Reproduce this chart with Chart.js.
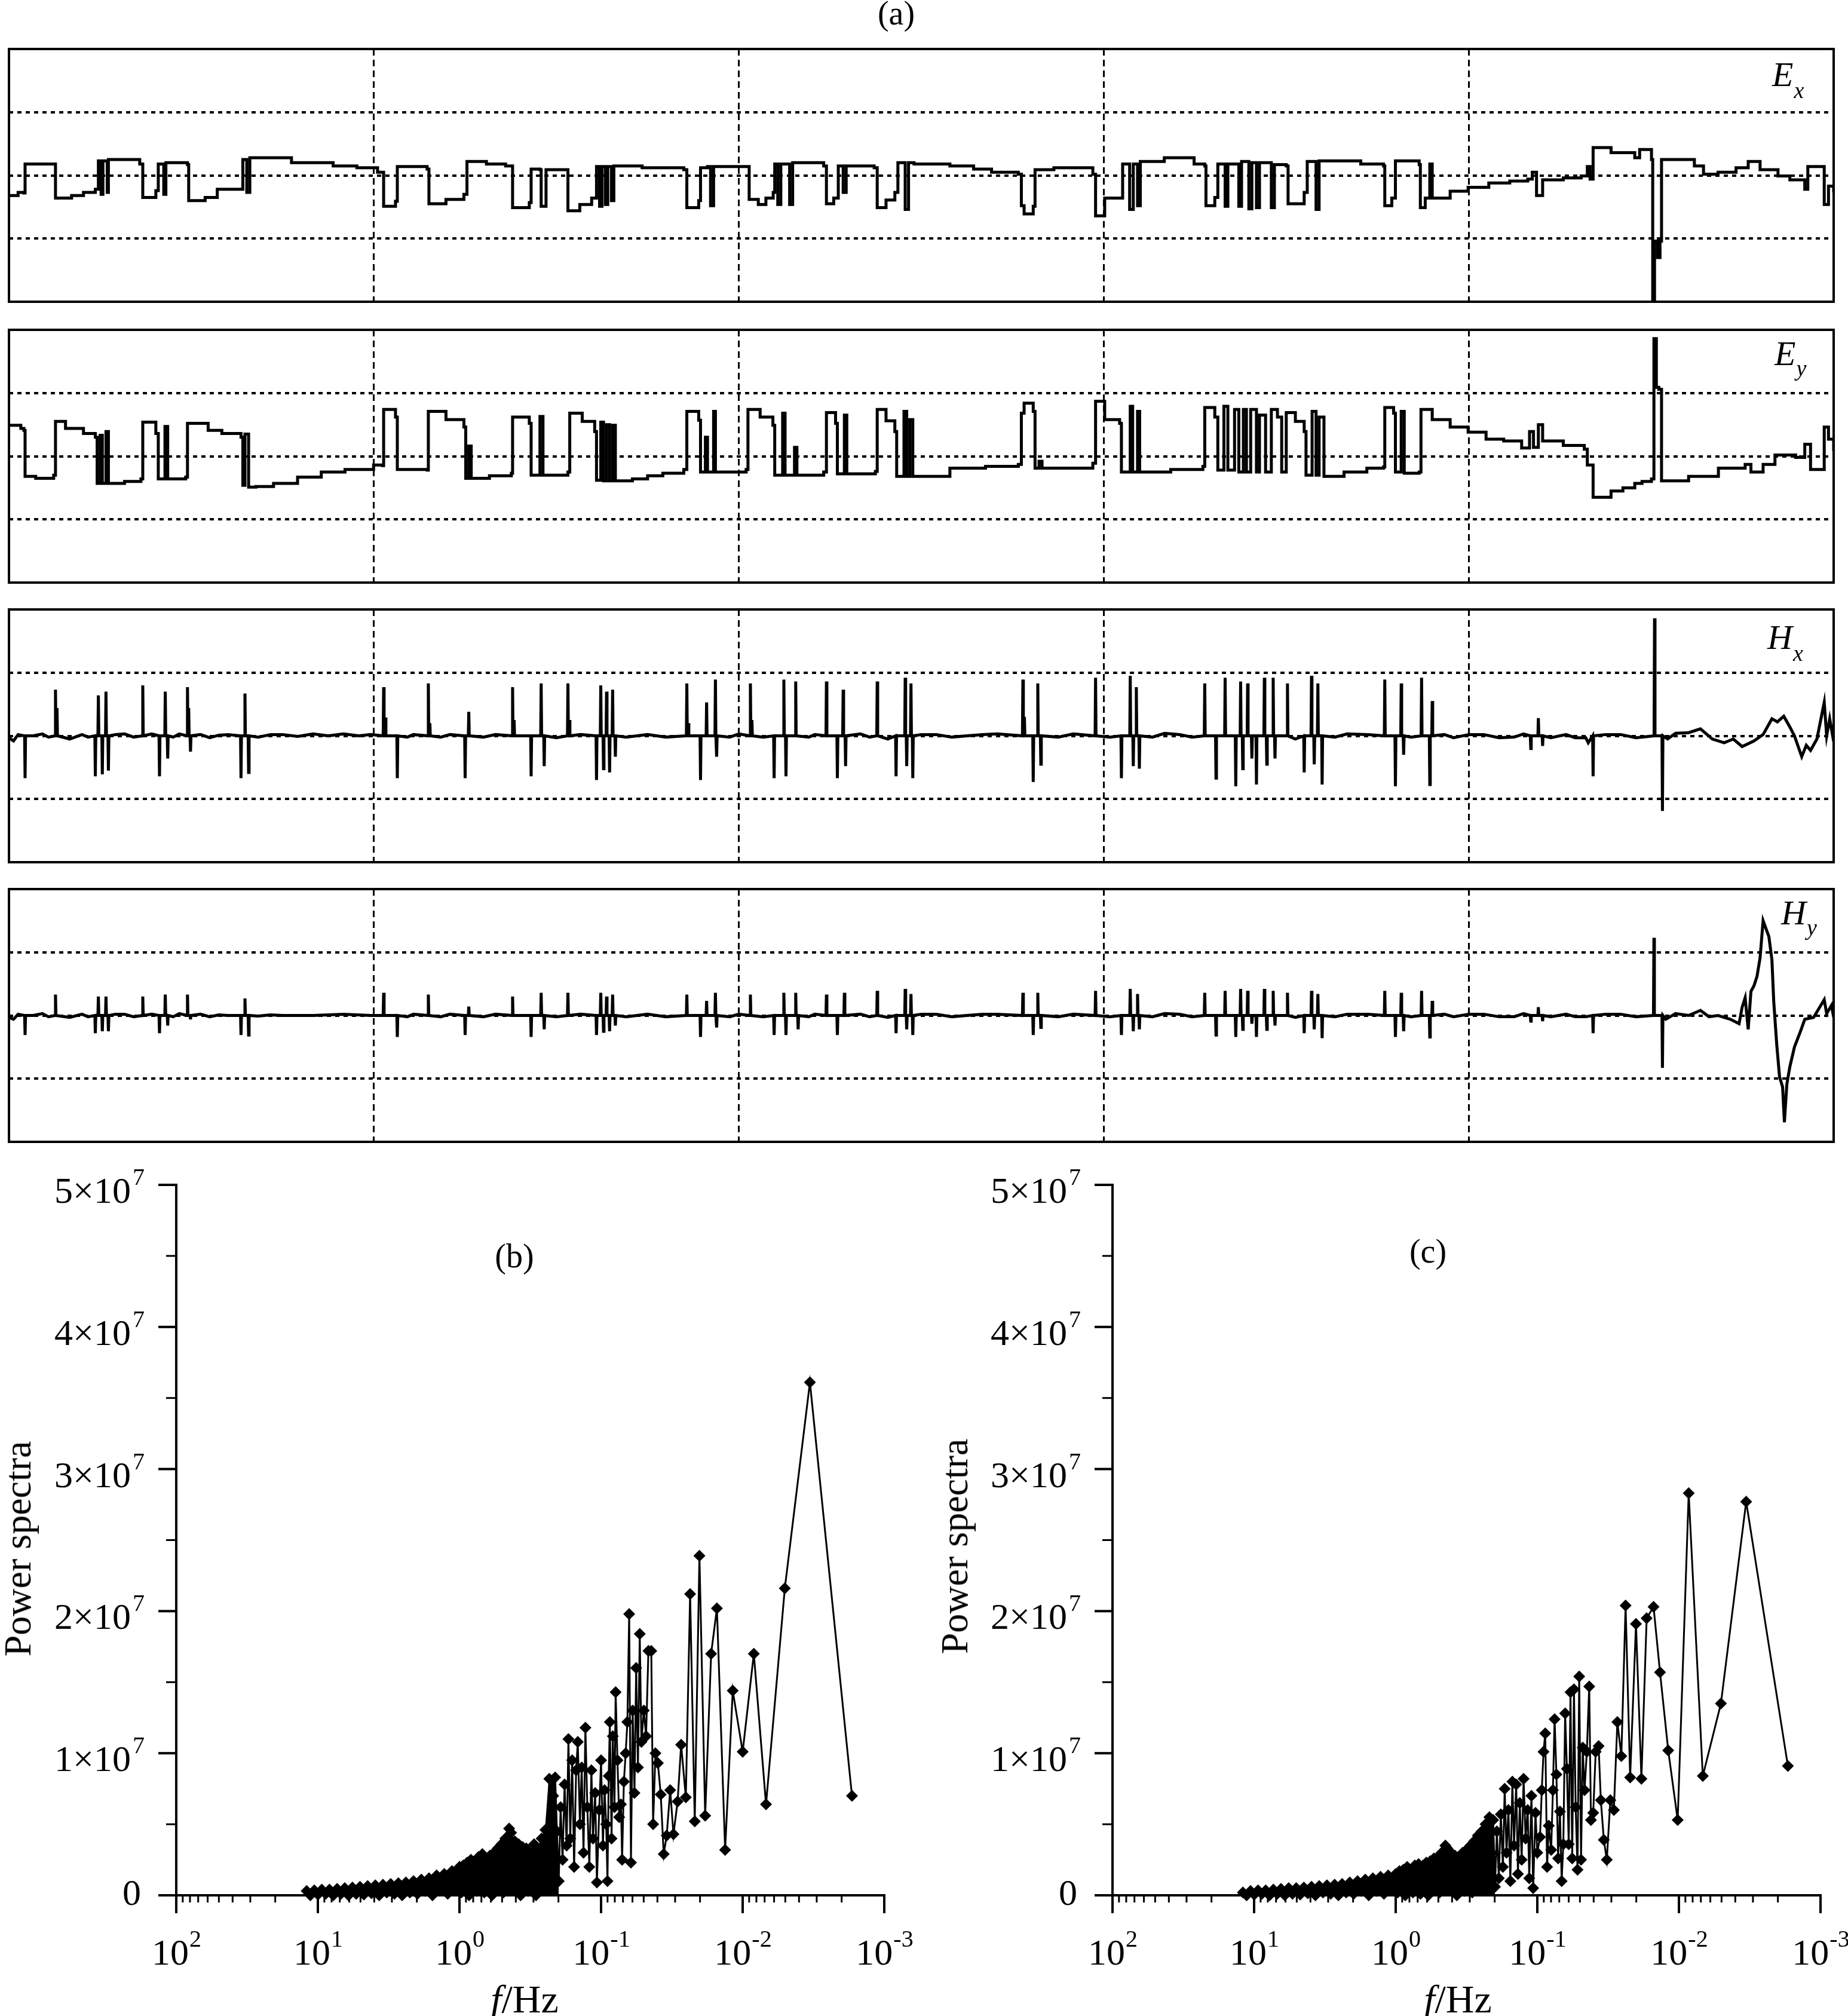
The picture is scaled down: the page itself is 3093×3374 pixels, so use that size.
<!DOCTYPE html>
<html>
<head>
<meta charset="utf-8">
<script src="https://cdn.jsdelivr.net/npm/chart.js@4.4.0/dist/chart.umd.min.js"></script>
<style>
  body { margin: 0; width: 3093px; height: 3374px; position: relative; background: #fff; color: #000;
         font-family: 'Liberation Serif', 'Times New Roman', serif; overflow: hidden; }
  canvas { position: absolute; }
  .t { position: absolute; line-height: 1; white-space: nowrap; }
  .c { transform: translate(-50%, -50%); font-size: 56px; }
  .lab { font-style: italic; font-size: 58px; }
  .lab span { font-size: 38px; position: relative; top: 20px; margin-left: 1px; }
  .rot { transform: translate(-50%, -50%) rotate(-90deg); font-size: 64px; }
  .ax { transform: translate(-50%, -50%); font-size: 66px; }
</style>
</head>
<body>
<div class="t c" style="left:1500px;top:22px">(a)</div>

<canvas id="exChart" width="3093" height="443" style="left:0;top:72px"></canvas>
<canvas id="eyChart" width="3093" height="443" style="left:0;top:542px"></canvas>
<canvas id="hxChart" width="3093" height="443" style="left:0;top:1010px"></canvas>
<canvas id="hyChart" width="3093" height="443" style="left:0;top:1478px"></canvas>

<div class="t lab" style="left:2966px;top:96px">E<span>x</span></div>
<div class="t lab" style="left:2970px;top:563px">E<span style="top:18px">y</span></div>
<div class="t lab" style="left:2958px;top:1038px">H<span>x</span></div>
<div class="t lab" style="left:2981px;top:1499px">H<span style="top:18px">y</span></div>

<canvas id="specB" width="1550" height="1474" style="left:0;top:1900px"></canvas>
<canvas id="specC" width="1533" height="1474" style="left:1560px;top:1900px"></canvas>

<div class="t c" style="left:861px;top:2102px">(b)</div>
<div class="t c" style="left:2390px;top:2094px">(c)</div>
<div class="t rot" style="left:30px;top:2592px">Power spectra</div>
<div class="t rot" style="left:1598px;top:2588px">Power spectra</div>
<div class="t ax" style="left:878px;top:3346px"><i>f</i>/Hz</div>
<div class="t ax" style="left:2440px;top:3346px"><i>f</i>/Hz</div>

<script>
// (a) time series, time in seconds over the 600 s record
const exTime = [0, 3.0, 4.9, 5.3, 15.1, 15.3, 20.6, 24.5, 28.4, 29.4, 30.3,
  30.9, 32.3, 32.7, 43.0, 44.0, 48.3, 49.1, 50.9, 51.6, 58.7,
  59.1, 64.5, 68.5, 76.3, 76.9, 78.2, 79.2, 87.0, 92.9, 106.6,
  114.4, 121.2, 123.2, 127.1, 127.7, 137.5, 138.1, 143.7, 149.6, 150.6, 157.0,
  163.3, 165.6, 171.1, 171.7, 174.6, 175.0, 176.6, 183.2, 183.8, 187.7, 191.6,
  193.2, 194.2, 195.0, 196.1, 196.9, 198.1, 198.9, 208.2, 221.9, 222.9,
  226.8, 227.4, 229.7, 230.7, 231.7, 242.4, 243.4, 246.4, 248.9, 251.3, 251.8,
  252.8, 253.8, 256.7, 257.7, 267.9, 268.8, 271.2, 272.7, 274.3, 275.3,
  284.5, 285.5, 288.4, 291.3, 292.3, 294.7, 295.8, 297.6, 309.4, 317.2, 323.1,
  331.9, 332.9, 333.8, 336.8, 337.4, 343.6, 356.4, 357.3, 360.3, 365.2,
  366.2, 368.5, 369.7, 371.1, 372.0, 379.9, 389.7, 393.2, 393.6, 396.5,
  397.5, 399.9, 400.8, 404.4, 405.3, 407.7, 408.7, 410.2, 411.2, 415.1,
  416.1, 420.0, 420.6, 425.9, 426.9, 429.8, 430.8, 444.5, 452.0, 452.4,
  454.7, 455.9, 463.7, 464.1, 465.7, 467.2, 468.0, 473.9, 479.8, 486.6,
  493.5, 499.4, 500.9, 502.3, 504.3, 511.1, 517.0, 519.0, 519.9, 520.9,
  526.8, 534.6, 536.2, 540.1, 540.5, 541.1, 542.1, 542.9, 543.4, 550.3,
  554.2, 557.2, 562.0, 567.9, 571.9, 575.8, 581.7, 585.6, 590.5, 591.5,
  595.4, 596.9, 598.3, 600];
const exField = [-0.32, -0.27, -0.28, 0.18, 0.18, -0.36, -0.32, -0.27, -0.22, 0.23, -0.30,
  0.23, -0.27, 0.25, 0.18, -0.35, -0.24, 0.18, -0.30, 0.20, 0.17,
  -0.40, -0.35, -0.22, -0.22, 0.25, -0.27, 0.28, 0.28, 0.20, 0.15,
  0.12, 0.05, -0.49, -0.41, 0.14, 0.10, -0.45, -0.38, -0.30, 0.22, 0.18,
  0.15, -0.51, -0.43, 0.10, 0.09, -0.49, 0.09, 0.09, -0.56, -0.46, -0.36,
  0.14, -0.49, 0.14, -0.46, 0.14, -0.40, 0.15, 0.12, 0.09, -0.51,
  -0.40, 0.12, 0.14, -0.48, 0.14, 0.14, -0.38, -0.46, -0.36, -0.27, 0.18,
  -0.46, 0.18, -0.46, 0.20, 0.15, -0.45, -0.36, 0.15, -0.27, 0.15,
  0.12, -0.51, -0.39, -0.27, 0.20, -0.54, 0.20, 0.18, 0.15, 0.10, 0.05,
  0.02, -0.48, -0.61, -0.49, 0.09, 0.12, 0.02, -0.64, -0.36, -0.36,
  0.18, -0.54, 0.18, -0.48, 0.22, 0.28, 0.18, 0.15, -0.48, -0.35,
  0.18, -0.49, 0.18, -0.49, 0.22, -0.53, 0.20, -0.51, 0.20, -0.51,
  0.17, 0.15, -0.45, -0.27, 0.22, -0.54, 0.23, 0.18, 0.15, -0.48,
  -0.36, 0.23, 0.17, -0.51, -0.36, 0.18, -0.36, -0.25, -0.19, -0.12,
  -0.09, -0.06, 0.05, -0.32, -0.07, -0.04, -0.01, 0.14, -0.06, 0.44,
  0.36, 0.28, 0.41, 0.25, -2.1, -1.04, -1.30, -1.04, 0.25, 0.25,
  0.15, 0.02, 0.05, 0.12, 0.22, 0.09, -0.01, -0.07, -0.22, 0.14,
  0.14, -0.46, -0.17, -0.27];

const eyTime = [0, 3.9, 4.9, 5.3, 8.8, 14.7, 15.3, 18.6, 24.5, 28.4,
  29.0, 30.0, 30.7, 31.9, 32.7, 38.0, 43.4, 44.0, 48.3, 49.1, 51.3,
  52.2, 58.1, 58.7, 65.5, 70.0, 76.3, 76.9, 77.6, 78.8, 81.2, 87.0, 94.9, 102.7, 110.5, 119.9,
  122.8, 123.2, 127.1, 127.7, 137.5, 137.9, 143.7, 149.6, 150.2, 151.2, 152.0, 158.0, 165.2,
  165.6, 171.1, 171.7, 174.6, 175.6, 183.8, 184.4, 188.5, 192.6, 193.2, 194.6,
  195.5, 196.5, 197.5, 198.5, 199.4, 205.0, 210.0, 215.0, 221.9, 222.9, 226.8, 227.4, 229.0,
  229.7, 231.7, 232.3, 242.4, 243.0, 247.0, 251.2, 251.8, 254.4, 255.2, 258.3,
  259.1, 267.9, 268.8, 271.8, 272.4, 274.7, 275.5, 284.9, 285.5, 288.4, 291.3,
  291.9, 294.3, 295.2, 296.2, 297.2, 309.4, 321.1, 331.9, 332.9, 333.8,
  336.8, 337.4, 338.7, 339.7, 356.4, 357.3, 360.3, 365.2, 365.8, 368.7,
  369.5, 371.1, 371.8, 382.0, 392.6, 393.2, 396.5, 397.5, 399.5, 400.8, 403.0,
  404.4, 405.9, 406.9, 408.3, 410.2, 411.2, 413.2, 415.1, 417.1, 418.5,
  420.0, 423.0, 425.9, 426.5, 428.5, 429.8, 430.8, 432.4, 439.0, 446.5, 452.0, 452.4,
  455.3, 455.9, 457.8, 458.8, 463.7, 464.3, 468.0, 473.9, 479.8, 485.7,
  491.5, 497.4, 500.0, 501.3, 502.9, 504.3, 511.1, 518.0, 519.0, 520.9,
  526.8, 530.7, 534.6, 537.0, 540.1, 540.9, 541.7, 542.5, 543.4, 552.3, 562.1, 570.9,
  572.8, 576.8, 580.7, 587.5, 590.5, 592.4, 595.4, 596.9, 598.3, 600];
const eyField = [0.49, 0.44, 0.41, -0.32, -0.35, -0.30, 0.55, 0.44, 0.36, 0.30,
  -0.43, 0.33, -0.43, 0.39, -0.43, -0.40, -0.36, 0.54, 0.36, -0.36, 0.47,
  -0.36, -0.33, 0.52, 0.41, 0.36, 0.30, -0.46, 0.35, -0.49, -0.48, -0.43, -0.33, -0.25, -0.21, -0.14,
  -0.15, 0.74, 0.62, -0.21, -0.22, 0.71, 0.58, 0.46, -0.35, 0.16, -0.35, -0.31, -0.27,
  0.62, 0.52, -0.30, 0.63, -0.30, -0.25, 0.68, 0.55, 0.39, -0.38, 0.54,
  -0.39, 0.50, -0.39, 0.49, -0.39, -0.36, -0.31, -0.27, -0.21, 0.71, 0.57, -0.25, 0.30,
  -0.25, 0.71, -0.25, -0.21, 0.74, 0.62, 0.49, -0.30, 0.68, -0.30, 0.14,
  -0.30, -0.25, 0.69, 0.52, -0.28, 0.65, -0.28, -0.24, 0.74, 0.56, 0.39,
  -0.32, 0.71, -0.32, 0.58, -0.32, -0.19, -0.16, -0.13, 0.68, 0.84,
  0.71, -0.19, -0.08, -0.19, -0.11, 0.87, 0.58, 0.52, -0.25, 0.79,
  -0.25, 0.71, -0.25, -0.21, -0.16, 0.77, 0.62, -0.22, 0.79, -0.22, 0.74,
  -0.25, 0.74, -0.25, 0.74, -0.25, 0.65, -0.25, 0.74, 0.62, -0.25,
  0.69, 0.55, 0.39, -0.30, 0.71, -0.30, 0.62, -0.32, -0.25, -0.19, -0.17, 0.77,
  0.68, -0.25, 0.71, -0.27, -0.25, 0.74, 0.58, 0.46, 0.38, 0.27,
  0.24, 0.13, 0.39, 0.14, 0.50, 0.24, 0.17, 0.11, -0.14, -0.65,
  -0.55, -0.50, -0.43, -0.40, -0.36, 1.86, 1.09, 1.06, -0.39, -0.32, -0.19, -0.13,
  -0.25, -0.13, 0.02, -0.02, 0.19, -0.21, -0.21, 0.46, 0.27, 0.08];

// magnetic channels: slow baseline plus narrow spikes
const hxBaseTime = [0, 1.5, 3, 8, 11, 13, 20, 24, 26, 35, 38, 41, 47, 54, 56, 63, 66, 69, 72, 82,
  86, 90, 95, 100, 105, 110, 115, 119, 131, 133, 142, 145, 156, 160, 180, 188, 203, 210, 216, 237,
  240, 248, 263, 265, 280, 283, 289, 300, 305, 310, 315, 320, 325, 345, 350, 362, 376, 380, 385, 389,
  423, 436, 440, 447, 461, 472, 475, 480, 485, 490, 495, 498, 507, 512, 515, 518.5, 519.3, 525, 530, 535,
  545.4, 548, 552.3, 556.2, 560.1, 564, 567, 569.9, 573.8, 576.8, 579.7, 581.5, 583.6, 585.6, 587.1, 589.5,
  591, 592.4, 594.5, 596.9, 597.7, 598.7, 600];
const hxBaseField = [-0.03, -0.08, 0.02, 0, 0.03, -0.02, -0.05, 0.02, -0.02, 0.02, 0.03, -0.02, 0.03, -0.02, 0.03, 0.02, -0.03, 0.01, 0.02, -0.02,
  0.02, 0.02, -0.01, 0.03, 0, 0.03, 0, 0.02, -0.02, 0.02, -0.02, 0.02, -0.02, 0.02, -0.03, 0.02, -0.02, 0.02, -0.02, -0.02,
  0.03, -0.02, -0.02, 0.02, 0.03, -0.02, -0.05, 0.02, 0.02, -0.02, 0, 0.02, 0.03, -0.02, 0.03, -0.02, -0.02, 0.04, 0.02, -0.02,
  -0.05, -0.02, 0.03, 0.02, -0.02, 0.02, -0.03, 0.02, 0.02, -0.03, -0.02, 0.03, -0.03, 0.02, -0.03, -0.03, -0.11, 0.02, 0.02, -0.03,
  -0.05, 0.04, 0.05, 0.11, -0.05, -0.11, -0.05, -0.17, -0.08, 0.02, 0.27, 0.22, 0.31, 0.14, 0, -0.33,
  -0.15, -0.23, -0.05, 0.53, 0, 0.27, -0.09];
const hxSpikeTime = [5.3, 15.3, 15.8, 28.4, 29.4, 30.7, 31.9, 32.7, 44, 49.5, 51.4, 52.2, 58.7, 59.1, 59.7,
  76.3, 77.6, 78.8, 123.2, 123.8, 127.7, 137.9, 138.4, 150, 151.2, 165.6, 166.1, 171.7, 175, 176,
  183.8, 184.3, 193.2, 194.6, 195.5, 196.5, 197.5, 198.5, 199.4, 222.9, 223.4, 227.4, 229.4, 232.3, 232.7,
  243.8, 244.3, 251.6, 254.8, 255.5, 258.7, 268.8, 272.4, 274.3, 275.1, 285.5, 291.7, 294.7, 295.2, 296.6,
  297.2, 333.4, 333.9, 336.8, 338.3, 339.3, 357.3, 365.8, 368.7, 369.7, 370.7, 371.7, 393.2, 396.9, 399.9,
  403.4, 405, 405.7, 407.3, 408.7, 410.2, 412.8, 413.6, 415.7, 416.3, 420.4, 425.9, 428.3, 429.2, 430.4,
  431.8, 452.4, 455.9, 457.8, 458.6, 464.5, 467.2, 468, 500.4, 502.9, 504.3, 520.9, 541.1, 543.7];
const hxSpikeSize = [-0.67, 0.73, 0.44, -0.64, 0.64, -0.61, 0.7, -0.55, 0.8, -0.64, 0.7, -0.36, 0.77, 0.44, -0.25,
  -0.67, 0.67, -0.58, 0.77, 0.29, -0.67, 0.83, 0.2, -0.67, 0.38, 0.77, 0.25, -0.64, 0.83, -0.48,
  0.83, 0.25, -0.7, 0.8, -0.52, 0.7, -0.58, 0.73, -0.33, 0.83, 0.2, -0.7, 0.53, 0.89, -0.33,
  0.83, 0.25, -0.67, 0.89, -0.64, 0.86, 0.86, -0.67, 0.73, -0.48, 0.86, -0.64, 0.92, -0.48, 0.83,
  -0.67, 0.89, 0.3, -0.73, 0.83, -0.45, 0.92, -0.67, 0.95, -0.48, 0.77, -0.52, 0.83, -0.67, 0.92,
  -0.8, 0.86, -0.52, 0.83, -0.36, -0.77, 0.92, -0.45, 0.92, -0.36, 0.83, -0.58, 0.95, -0.45, 0.83,
  -0.77, 0.89, -0.8, 0.83, -0.3, 0.92, -0.77, 0.55, -0.2, 0.28, -0.16, -0.64, 1.86, -1.19];

const hyBaseTime = [0, 1.5, 3, 8, 11, 13, 20, 24, 26, 35, 38, 41, 47, 54, 56, 63, 66, 69, 72, 82,
  86, 90, 100, 110, 119, 131, 133, 142, 145, 156, 160, 180, 188, 203, 210, 216, 237, 240, 248, 263,
  265, 280, 283, 289, 300, 305, 310, 315, 320, 325, 345, 350, 362, 376, 380, 385, 389, 423, 436, 440,
  447, 461, 472, 475, 480, 485, 490, 495, 498, 507, 512, 515, 518.5, 525, 530, 535, 544.8, 548, 552.3, 556.2,
  559, 562, 566, 568.9, 569.9, 570.9, 571.9, 572.8, 573.8, 574.8, 575.8, 576.8, 577.7, 578.7, 579.7, 580.3,
  581.3, 582.2, 583.2, 583.8, 584.6, 585.6, 587.1, 589.1, 590.5, 593.4, 596.9, 597.7, 599.3, 600];
const hyBaseField = [-0.03, -0.06, 0.02, 0, 0.03, -0.02, -0.03, 0.02, -0.02, 0.02, 0.02, -0.02, 0.02, -0.02, 0.03, 0.02, -0.02, 0.01, 0, -0.01,
  0.01, 0, 0, 0.02, 0, -0.02, 0.02, -0.02, 0.02, -0.02, 0.02, -0.02, 0.02, -0.02, 0.02, -0.02, -0.02, 0.02, -0.02, -0.02,
  0.02, 0.02, -0.02, -0.03, 0.02, 0.02, -0.02, 0, 0.02, 0.02, -0.02, 0.02, -0.02, -0.02, 0.03, 0.02, -0.02, -0.03, -0.02, 0.02,
  0.02, -0.02, 0.02, -0.02, 0.02, 0.02, -0.02, -0.02, 0.03, -0.02, 0.02, -0.02, -0.02, 0.02, 0.02, -0.02, -0.06, 0.03, 0, 0.08,
  -0.02, 0, -0.06, -0.13, 0.13, 0.28, -0.22, 0.38, 0.47, 0.62, 0.91, 1.5, 1.38, 1.25, 0.88, 0.22,
  -0.47, -0.97, -1.13, -1.69, -1.09, -0.81, -0.5, -0.25, -0.06, -0.03, 0.25, 0.03, 0.16, -0.03];
const hySpikeTime = [5.3, 15.3, 28.4, 29.4, 30.7, 31.9, 32.7, 44, 49.5, 51.4, 52.2, 58.7, 59.7,
  76.3, 77.6, 78.8, 123.2, 127.7, 137.9, 150, 151.2, 165.6, 171.7, 175, 176, 183.8,
  193.2, 194.6, 195.5, 196.5, 197.5, 198.5, 199.4, 222.9, 227.4, 229.4, 232.3, 232.7,
  243.8, 251.6, 254.8, 255.5, 258.7, 259.5, 268.8, 272.4, 274.7, 285.5, 291.7, 294.7, 295.2, 296.6,
  297.2, 333.4, 336.8, 338.3, 339.3, 357.3, 365.8, 368.7, 369.7, 371.1, 371.7, 393.2, 396.9, 399.9,
  403.4, 405, 405.7, 407.3, 408.7, 410.2, 412.8, 413.6, 415.7, 416.3, 420.4, 425.9, 428.3, 429.2, 430.4,
  431.8, 452.4, 455.9, 457.8, 458.6, 464.5, 467.2, 468, 500.4, 502.9, 504.3, 520.9, 540.9, 543.7];
const hySpikeSize = [-0.31, 0.33, -0.28, 0.3, -0.25, 0.3, -0.25, 0.3, -0.28, 0.33, -0.16, 0.33, -0.06,
  -0.31, 0.27, -0.31, 0.36, -0.34, 0.33, -0.31, 0.14, 0.3, -0.34, 0.36, -0.22, 0.36,
  -0.31, 0.36, -0.25, 0.3, -0.25, 0.33, -0.16, 0.33, -0.34, 0.23, 0.36, -0.19,
  0.33, -0.31, 0.36, -0.31, 0.36, -0.22, 0.33, -0.31, 0.36, 0.39, -0.28, 0.42, -0.22, 0.34,
  -0.31, 0.36, -0.31, 0.36, -0.19, 0.39, -0.31, 0.42, -0.25, 0.34, -0.22, 0.36, -0.31, 0.39,
  -0.34, 0.42, -0.22, 0.39, -0.13, -0.34, 0.42, -0.22, 0.39, -0.16, 0.36, -0.28, 0.39, -0.22, 0.34,
  -0.36, 0.39, -0.34, 0.36, -0.25, 0.39, -0.34, 0.23, -0.09, 0.13, -0.09, -0.28, 1.23, -0.83];

// (b), (c) spectra: frequency in Hz, power in units of 10^7
const freqHigh = [12.0, 11.3, 10.6, 9.98, 9.38, 8.81, 8.28, 7.78, 7.31, 6.87,
  6.46, 6.07, 5.70, 5.36, 5.04, 4.73, 4.45, 4.18, 3.93, 3.69,
  3.47, 3.26, 3.06, 2.88, 2.70, 2.54, 2.39, 2.24, 2.11, 1.98,
  1.86, 1.75, 1.64, 1.55, 1.45, 1.36, 1.28, 1.21, 1.13, 1.06, 1.0,
  0.969, 0.940, 0.911, 0.883, 0.856, 0.830, 0.804, 0.780, 0.756, 0.733,
  0.710, 0.689, 0.668, 0.647, 0.627, 0.608, 0.589, 0.571, 0.554, 0.537,
  0.521, 0.505, 0.489, 0.474, 0.460, 0.446, 0.432, 0.419, 0.406, 0.394,
  0.382, 0.370, 0.358, 0.348, 0.337, 0.327, 0.317, 0.307, 0.297, 0.288,
  0.280, 0.271, 0.263, 0.255, 0.247, 0.239, 0.232, 0.225, 0.218, 0.211,
  0.205, 0.199, 0.193, 0.187, 0.181, 0.175, 0.170, 0.165, 0.160, 0.155,
  0.150, 0.146, 0.141, 0.137, 0.133, 0.129, 0.125, 0.121, 0.117, 0.114,
  0.110, 0.107, 0.103, 0.100];
const powerHighB = [0.03, 0.0, 0.035, 0.005, 0.04, 0.01, 0.04, 0.0, 0.045, 0.01,
  0.05, 0.0, 0.055, 0.01, 0.06, 0.005, 0.065, 0.015, 0.07, 0.0,
  0.075, 0.02, 0.08, 0.01, 0.085, 0.0, 0.09, 0.02, 0.1, 0.01,
  0.11, 0.03, 0.12, 0.0, 0.14, 0.04, 0.15, 0.01, 0.17, 0.05, 0.2,
  0.02, 0.21, 0.06, 0.23, 0.0, 0.25, 0.08, 0.22, 0.03, 0.27,
  0.1, 0.29, 0.02, 0.26, 0.12, 0.28, 0.0, 0.3, 0.08, 0.33,
  0.15, 0.36, 0.02, 0.4, 0.1, 0.47, 0.44, 0.05, 0.38, 0.2,
  0.36, 0.0, 0.34, 0.12, 0.33, 0.03, 0.3, 0.15, 0.36, 0.0,
  0.33, 0.08, 0.4, 0.18, 0.46, 0.05, 0.82, 0.3, 0.7, 0.83,
  0.45, 0.1, 0.62, 0.25, 0.78, 0.35, 1.1, 0.4, 0.95, 0.2,
  0.88, 1.08, 0.5, 0.9, 0.3, 1.18, 0.62, 0.2, 0.88, 0.4,
  0.72, 0.09, 0.6, 0.95];
const powerHighC = [0.02, 0.0, 0.03, 0.005, 0.035, 0.01, 0.035, 0.0, 0.04, 0.01,
  0.045, 0.0, 0.05, 0.01, 0.05, 0.005, 0.055, 0.015, 0.06, 0.0,
  0.065, 0.02, 0.07, 0.01, 0.075, 0.0, 0.08, 0.02, 0.09, 0.01,
  0.1, 0.03, 0.11, 0.0, 0.12, 0.03, 0.13, 0.01, 0.14, 0.04, 0.15,
  0.02, 0.17, 0.04, 0.18, 0.0, 0.2, 0.06, 0.18, 0.02, 0.21,
  0.08, 0.22, 0.01, 0.2, 0.1, 0.23, 0.0, 0.24, 0.07, 0.26,
  0.12, 0.27, 0.02, 0.3, 0.08, 0.35, 0.33, 0.04, 0.3, 0.15,
  0.28, 0.0, 0.27, 0.1, 0.3, 0.03, 0.32, 0.12, 0.35, 0.02,
  0.38, 0.1, 0.42, 0.15, 0.45, 0.04, 0.5, 0.22, 0.55, 0.3,
  0.53, 0.06, 0.45, 0.12, 0.57, 0.2, 0.75, 0.3, 0.6, 0.1,
  0.8, 0.35, 0.78, 0.15, 0.65, 0.25, 0.82, 0.4, 0.6, 0.12,
  0.7, 0.05, 0.58, 0.3];

const freqLowB = [0.097, 0.0945, 0.092, 0.0901, 0.0883, 0.0867, 0.0843, 0.0826,
  0.0804, 0.0789, 0.0766, 0.0745, 0.0724, 0.071, 0.069, 0.067, 0.0652, 0.0633,
  0.0615, 0.0598, 0.0581, 0.0565, 0.0549, 0.0533, 0.0519, 0.0499, 0.0481, 0.0463,
  0.0442, 0.0429, 0.0413, 0.0397, 0.0379, 0.0361, 0.0344, 0.0325, 0.0308, 0.0288,
  0.0272, 0.0252, 0.0235, 0.0218, 0.0202, 0.0184, 0.0167, 0.0152, 0.0133, 0.01175,
  0.0100, 0.00834, 0.00684, 0.00504, 0.00335, 0.00169];
const powerLowB = [0.35, 0.74, 0.5, 0.10, 0.84, 1.22, 0.40, 1.12,
  0.62, 1.43, 0.95, 0.55, 0.64, 0.25, 0.80, 1.00, 1.22, 1.98,
  0.23, 1.30, 0.72, 1.60, 0.90, 1.84, 1.08, 1.30, 1.12, 1.72,
  1.72, 0.50, 1.00, 0.93, 0.71, 0.29, 0.42, 0.74, 0.43, 0.66,
  1.06, 0.69, 2.12, 0.52, 2.39, 0.56, 1.70, 2.02, 0.32, 1.44,
  1.01, 1.70, 0.64, 2.16, 3.61, 0.70];

const freqLowC = [0.0957, 0.093, 0.0904, 0.0879, 0.0853, 0.083, 0.0798,
  0.0776, 0.0755, 0.0733, 0.0713, 0.0692, 0.0673, 0.0655, 0.0636, 0.0618, 0.06,
  0.0583, 0.0567, 0.0551, 0.0536, 0.052, 0.0506, 0.0491, 0.0478, 0.0464, 0.0447,
  0.043, 0.0418, 0.0403, 0.0387, 0.0369, 0.0356, 0.0339, 0.0323, 0.0305, 0.0288,
  0.0272, 0.0255, 0.0238, 0.0221, 0.0201, 0.0184, 0.0169, 0.0151, 0.0136, 0.0119,
  0.0102, 0.00853, 0.00678, 0.00505, 0.00335, 0.0017];
const powerLowC = [0.41, 0.74, 1.01, 1.14, 0.20, 0.49, 0.32,
  0.74, 1.24, 0.85, 0.26, 0.59, 0.10, 0.36, 1.28, 0.89, 0.36,
  1.43, 0.26, 1.45, 0.62, 0.18, 1.54, 0.25, 1.04, 0.74, 1.01,
  1.47, 0.53, 0.58, 1.01, 1.05, 0.67, 0.39, 0.25, 0.67, 0.60,
  1.22, 0.98, 2.04, 0.83, 1.91, 0.82, 1.95, 2.03, 1.57, 1.02,
  0.53, 2.83, 0.84, 1.35, 2.77, 0.91];

// axis ticks of the spectra
const freqExponents = [2, 1, 0, -1, -2, -3];
const powerTicks = [0, 1, 2, 3, 4, 5];

const serif = "'Liberation Serif', 'Times New Roman', serif";

// thick box around each time-series panel
const frame = {
  id: 'frame',
  afterDatasetsDraw(chart) {
    const { ctx, chartArea: a } = chart;
    ctx.save();
    ctx.strokeStyle = '#000';
    ctx.lineWidth = 4;
    ctx.strokeRect(a.left, a.top, a.right - a.left, a.bottom - a.top);
    ctx.restore();
  }
};

function tick(ctx, x1, y1, x2, y2, w) {
  ctx.lineWidth = w;
  ctx.beginPath();
  ctx.moveTo(x1, y1);
  ctx.lineTo(x2, y2);
  ctx.stroke();
}

// tick marks and 10^n labels of the spectra axes
const powerAxis = {
  id: 'powerAxis',
  afterDraw(chart) {
    const { ctx, chartArea: a } = chart;
    const x = chart.scales.x, y = chart.scales.y;
    ctx.save();
    ctx.strokeStyle = '#000';
    ctx.fillStyle = '#000';
    ctx.textBaseline = 'alphabetic';

    freqExponents.forEach(e => {
      const px = x.getPixelForValue(Math.pow(10, e));
      tick(ctx, px, a.bottom - 2, px, a.bottom + 30, 4);
      if (e > -3) {
        for (let k = 2; k <= 9; k++) {
          const m = x.getPixelForValue(k * Math.pow(10, e - 1));
          tick(ctx, m, a.bottom, m, a.bottom + 12, 3);
        }
      }
      const exp = String(e);
      ctx.font = '62px ' + serif;
      const wb = ctx.measureText('10').width;
      ctx.font = '40px ' + serif;
      const we = ctx.measureText(exp).width;
      const left = px - (wb + we) / 2;
      ctx.textAlign = 'left';
      ctx.font = '62px ' + serif;
      ctx.fillText('10', left, a.bottom + 116);
      ctx.font = '40px ' + serif;
      ctx.fillText(exp, left + wb + 1, a.bottom + 86);
    });

    const right = a.left - 53;
    powerTicks.forEach(v => {
      const py = y.getPixelForValue(v);
      tick(ctx, a.left - 30, py, a.left + 2, py, 4);
      if (v < 5) {
        const m = y.getPixelForValue(v + 0.5);
        tick(ctx, a.left - 17, m, a.left, m, 3);
      }
      if (v === 0) {
        ctx.font = '62px ' + serif;
        ctx.textAlign = 'right';
        ctx.fillText('0', right - 6, py + 16);
      } else {
        ctx.font = '40px ' + serif;
        const we = ctx.measureText('7').width;
        ctx.textAlign = 'left';
        ctx.fillText('7', right - we, py);
        ctx.font = '62px ' + serif;
        ctx.textAlign = 'right';
        ctx.fillText(v + '\u00d710', right - we - 3, py + 30);
      }
    });
    ctx.restore();
  }
};

function seriesPoints(times, values) {
  return times.map((t, i) => ({ x: t, y: values[i] }));
}

// baseline samples plus each spike drawn as a narrow excursion from zero
function spikePoints(baseT, baseV, spikeT, spikeV) {
  const pts = seriesPoints(baseT, baseV);
  spikeT.forEach((t, i) => {
    pts.push({ x: t - 0.15, y: 0 }, { x: t, y: spikeV[i] }, { x: t + 0.15, y: 0 });
  });
  return pts.sort((p, q) => p.x - q.x);
}

function panelChart(id, points, stepped) {
  return new Chart(document.getElementById(id), {
    type: 'line',
    data: {
      datasets: [{
        data: points,
        borderColor: '#000',
        borderWidth: 5,
        pointRadius: 0,
        tension: 0,
        stepped: stepped
      }]
    },
    options: {
      responsive: false,
      animation: false,
      devicePixelRatio: 1,
      layout: { padding: { left: 15, right: 24, top: 10, bottom: 10 } },
      plugins: { legend: { display: false }, tooltip: { enabled: false } },
      scales: {
        x: {
          type: 'linear', min: 0, max: 600,
          ticks: { display: false, stepSize: 120 },
          grid: { color: '#000', lineWidth: 3, drawTicks: false },
          border: { display: false, dash: [11, 7] },
          afterFit: s => { s.height = 0; }
        },
        y: {
          min: -2, max: 2,
          ticks: { display: false, stepSize: 1 },
          grid: { color: '#000', lineWidth: 4, drawTicks: false },
          border: { display: false, dash: [7, 7] },
          afterFit: s => { s.width = 0; }
        }
      }
    },
    plugins: [frame]
  });
}

// the densely sampled high-frequency part merges into a solid black mass:
// fill under the peaks of that part
function spectrumChart(id, freqs, powers, axisWidth, rightPad) {
  const pts = seriesPoints(freqs, powers);
  const dense = pts.filter(p => p.x >= 0.199);
  const peaks = dense.filter((p, i) => i === 0 || i === dense.length - 1 ||
    (p.y >= dense[i - 1].y && p.y >= dense[i + 1].y));
  return new Chart(document.getElementById(id), {
    type: 'line',
    data: {
      datasets: [{
        data: pts,
        borderColor: '#000',
        borderWidth: 3,
        backgroundColor: '#000',
        pointStyle: 'rectRot',
        pointRadius: 10,
        pointBorderWidth: 0,
        tension: 0,
        clip: false
      }, {
        data: peaks,
        borderColor: '#000',
        borderWidth: 2,
        backgroundColor: '#000',
        pointRadius: 0,
        tension: 0,
        fill: 'origin'
      }]
    },
    options: {
      responsive: false,
      animation: false,
      devicePixelRatio: 1,
      layout: { padding: { left: 0, right: rightPad, top: 83, bottom: 0 } },
      plugins: { legend: { display: false }, tooltip: { enabled: false } },
      scales: {
        x: {
          type: 'logarithmic', reverse: true, min: 0.001, max: 100,
          ticks: { display: false },
          grid: { display: false },
          border: { color: '#000', width: 4 },
          afterFit: s => { s.height = 202; }
        },
        y: {
          min: 0, max: 5,
          ticks: { display: false },
          grid: { display: false },
          border: { color: '#000', width: 4 },
          afterFit: s => { s.width = axisWidth; }
        }
      }
    },
    plugins: [powerAxis]
  });
}

panelChart('exChart', seriesPoints(exTime, exField), true);
panelChart('eyChart', seriesPoints(eyTime, eyField), true);
panelChart('hxChart', spikePoints(hxBaseTime, hxBaseField, hxSpikeTime, hxSpikeSize), false);
panelChart('hyChart', spikePoints(hyBaseTime, hyBaseField, hySpikeTime, hySpikeSize), false);
spectrumChart('specB', freqHigh.concat(freqLowB), powerHighB.concat(powerLowB), 295, 70);
spectrumChart('specC', freqHigh.concat(freqLowC), powerHighC.concat(powerLowC), 302, 46);
</script>
</body>
</html>
